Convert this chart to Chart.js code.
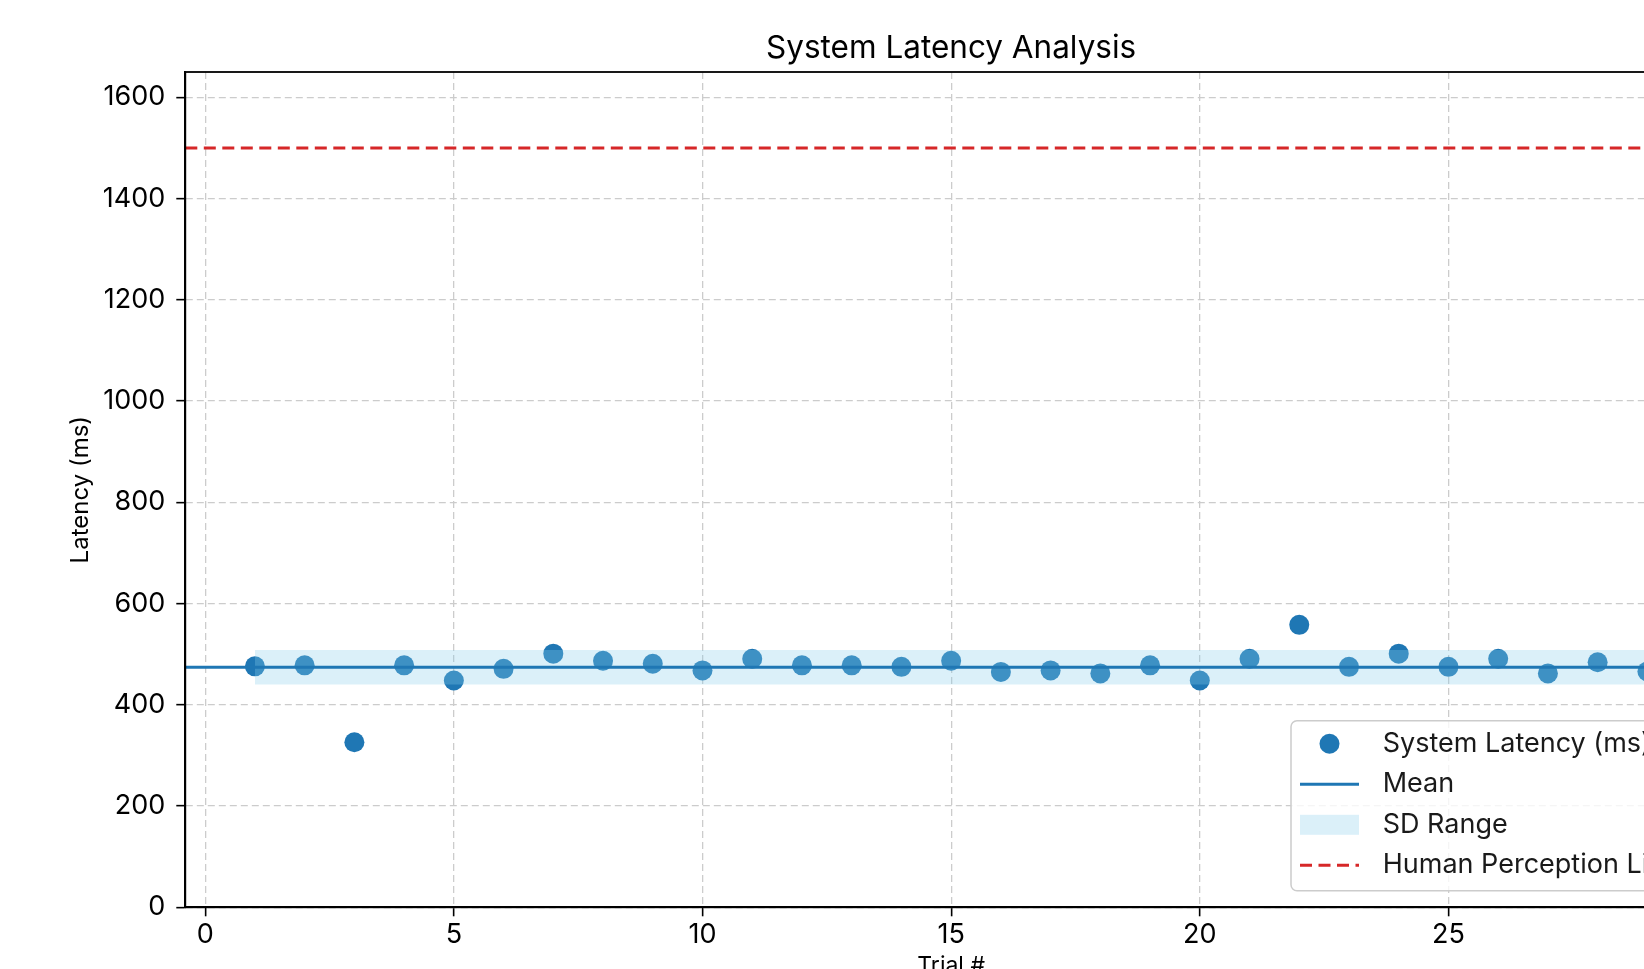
<!DOCTYPE html>
<html>
<head>
<meta charset="utf-8">
<title>System Latency Analysis</title>
<script src="https://cdn.jsdelivr.net/npm/chart.js@4.4.1/dist/chart.umd.min.js"></script>
<style>
  html, body { margin: 0; padding: 0; overflow: hidden; background: #ffffff; width: 1644px; height: 969px; }
  canvas { display: block; }
</style>
</head>
<body>
<canvas id="latencyChart" width="1800" height="1010"></canvas>
<script>
// Measured latency per trial
const trials = [1, 2, 3, 4, 5, 6, 7, 8, 9, 10, 11, 12, 13, 14, 15, 16, 17, 18, 19, 20, 21, 22, 23, 24, 25, 26, 27, 28, 29];
const latencyMs = [476, 478, 326, 478, 448, 471, 501, 487, 481, 468, 491, 478, 478, 475, 487, 465, 468, 462, 478, 448, 491, 558, 475, 501, 475, 491, 462, 484, 466];

// Reference threshold
const perceptionLimitMs = 1500;

// Axis limits and tick values
const xLimits = [-0.4, 30.4];
const yLimits = [0, 1650];
const xTickValues = [0, 5, 10, 15, 20, 25, 30];
const yTickValues = [0, 200, 400, 600, 800, 1000, 1200, 1400, 1600];

// Legend labels
const seriesLabels = ['System Latency (ms)', 'Mean', 'SD Range', 'Human Perception Limit'];

// Summary statistics
const meanMs = latencyMs.reduce((a, b) => a + b, 0) / latencyMs.length;
const sdMs = Math.sqrt(latencyMs.reduce((a, v) => a + (v - meanMs) ** 2, 0) / latencyMs.length);

const FONT = 'Inter, "Open Sans", sans-serif';
const BLUE = '#1f77b4';
const BAND = 'rgba(135, 206, 235, 0.3)';
const RED = '#d62728';

const points = trials.map((t, i) => ({ x: t, y: latencyMs[i] }));
const bandUpper = [trials[0], trials[trials.length - 1]].map(x => ({ x, y: meanMs + sdMs }));
const bandLower = [trials[0], trials[trials.length - 1]].map(x => ({ x, y: meanMs - sdMs }));
const meanLine = xLimits.map(x => ({ x, y: meanMs }));
const limitLine = xLimits.map(x => ({ x, y: perceptionLimitMs }));

// Full axes frame (top and right edges included)
const framePlugin = {
  id: 'frame',
  afterDraw(chart) {
    const { ctx, chartArea: a } = chart;
    ctx.save();
    ctx.strokeStyle = '#000';
    ctx.lineWidth = 1.8;
    ctx.strokeRect(a.left, a.top, a.right - a.left, a.bottom - a.top);
    ctx.restore();
  }
};

// Boxed legend in the lower-right corner of the plot area
const boxLegendPlugin = {
  id: 'boxLegend',
  afterDraw(chart) {
    const { ctx, chartArea: a } = chart;
    const ds = chart.data.datasets;
    const w = 415, h = 170;
    const x0 = a.right - 11 - w;
    const y0 = a.bottom - 16.5 - h;
    ctx.save();
    ctx.beginPath();
    ctx.roundRect(x0, y0, w, h, 6);
    ctx.fillStyle = 'rgba(255,255,255,0.8)';
    ctx.fill();
    ctx.strokeStyle = '#cccccc';
    ctx.lineWidth = 1.5;
    ctx.stroke();

    const hx0 = x0 + 9, hx1 = x0 + 68, tx = x0 + 91.7;
    const rowY = i => y0 + 23 + 40.5 * i;
    ctx.font = '27px ' + FONT;
    ctx.textBaseline = 'middle';
    ctx.textAlign = 'left';

    // scatter marker
    const sc = ds.find(d => d.id === 'latency');
    ctx.beginPath();
    ctx.arc((hx0 + hx1) / 2, rowY(0), sc.pointRadius, 0, Math.PI * 2);
    ctx.fillStyle = sc.backgroundColor;
    ctx.fill();
    // mean line
    const mn = ds.find(d => d.id === 'mean');
    ctx.beginPath();
    ctx.moveTo(hx0, rowY(1)); ctx.lineTo(hx1, rowY(1));
    ctx.strokeStyle = mn.borderColor; ctx.lineWidth = mn.borderWidth; ctx.stroke();
    // band patch
    const bd = ds.find(d => d.id === 'bandUpper');
    ctx.fillStyle = bd.backgroundColor;
    ctx.fillRect(hx0, rowY(2) - 10, hx1 - hx0, 20);
    // limit line
    const lm = ds.find(d => d.id === 'limit');
    ctx.beginPath();
    ctx.setLineDash(lm.borderDash);
    ctx.moveTo(hx0, rowY(3)); ctx.lineTo(hx1, rowY(3));
    ctx.strokeStyle = lm.borderColor; ctx.lineWidth = lm.borderWidth; ctx.stroke();
    ctx.setLineDash([]);

    ctx.fillStyle = '#1a1a1a';
    seriesLabels.forEach((s, i) => ctx.fillText(s, tx, rowY(i)));
    ctx.restore();
  }
};

const gridStyle = {
  color: '#cccccc',
  lineWidth: 1.3,
  tickColor: '#000',
  tickLength: 9,
  tickWidth: 1.6,
  drawTicks: true
};

const plainNumber = v => String(v);

new Chart(document.getElementById('latencyChart'), {
  type: 'scatter',
  data: {
    datasets: [
      {
        id: 'latency', label: seriesLabels[0], data: points,
        backgroundColor: BLUE, borderWidth: 0, pointRadius: 10, pointHoverRadius: 10, order: 4
      },
      {
        id: 'bandUpper', type: 'line', label: seriesLabels[2], data: bandUpper,
        borderWidth: 0, pointRadius: 0, backgroundColor: BAND, fill: '+1', order: 2
      },
      {
        id: 'bandLower', type: 'line', label: '', data: bandLower,
        borderWidth: 0, pointRadius: 0, fill: false, order: 3
      },
      {
        id: 'mean', type: 'line', label: seriesLabels[1], data: meanLine,
        borderColor: BLUE, borderWidth: 3, pointRadius: 0, fill: false, order: 1
      },
      {
        id: 'limit', type: 'line', label: seriesLabels[3], data: limitLine,
        borderColor: RED, borderWidth: 3, borderDash: [12, 6.5], pointRadius: 0, fill: false, order: 0
      }
    ]
  },
  options: {
    responsive: false,
    animation: false,
    devicePixelRatio: 1,
    events: [],
    layout: { padding: { left: 0, right: 83, top: 0, bottom: 0 } },
    plugins: {
      legend: { display: false },
      tooltip: { enabled: false },
      title: {
        display: true,
        fullSize: false,
        text: 'System Latency Analysis',
        color: '#000',
        font: { family: FONT, size: 31.5, weight: 'normal', lineHeight: 1.2 },
        padding: { top: 30, bottom: 4.2 }
      }
    },
    scales: {
      x: {
        type: 'linear',
        min: xLimits[0],
        max: xLimits[1],
        afterBuildTicks: s => { s.ticks = xTickValues.map(v => ({ value: v })); },
        afterFit: s => { s.height = 102.7; },
        grid: gridStyle,
        border: { display: true, color: '#000', width: 1.8, dash: [7, 4] },
        ticks: { color: '#000', font: { family: FONT, size: 27 }, padding: 2, maxRotation: 0, callback: plainNumber },
        title: {
          display: true, text: 'Trial #', color: '#000',
          font: { family: FONT, size: 23, lineHeight: 1.2 },
          padding: { top: 0, bottom: 30 }
        }
      },
      y: {
        type: 'linear',
        min: yLimits[0],
        max: yLimits[1],
        afterBuildTicks: s => { s.ticks = yTickValues.map(v => ({ value: v })); },
        afterFit: s => { s.width = 185.3; },
        grid: gridStyle,
        border: { display: true, color: '#000', width: 1.8, dash: [7, 4] },
        ticks: { color: '#000', font: { family: FONT, size: 27 }, padding: 11, callback: plainNumber },
        title: {
          display: true, text: 'Latency (ms)', color: '#000',
          font: { family: FONT, size: 24, lineHeight: 1.2 },
          padding: { top: 66, bottom: 0 }
        }
      }
    }
  },
  plugins: [framePlugin, boxLegendPlugin]
});
</script>
</body>
</html>
